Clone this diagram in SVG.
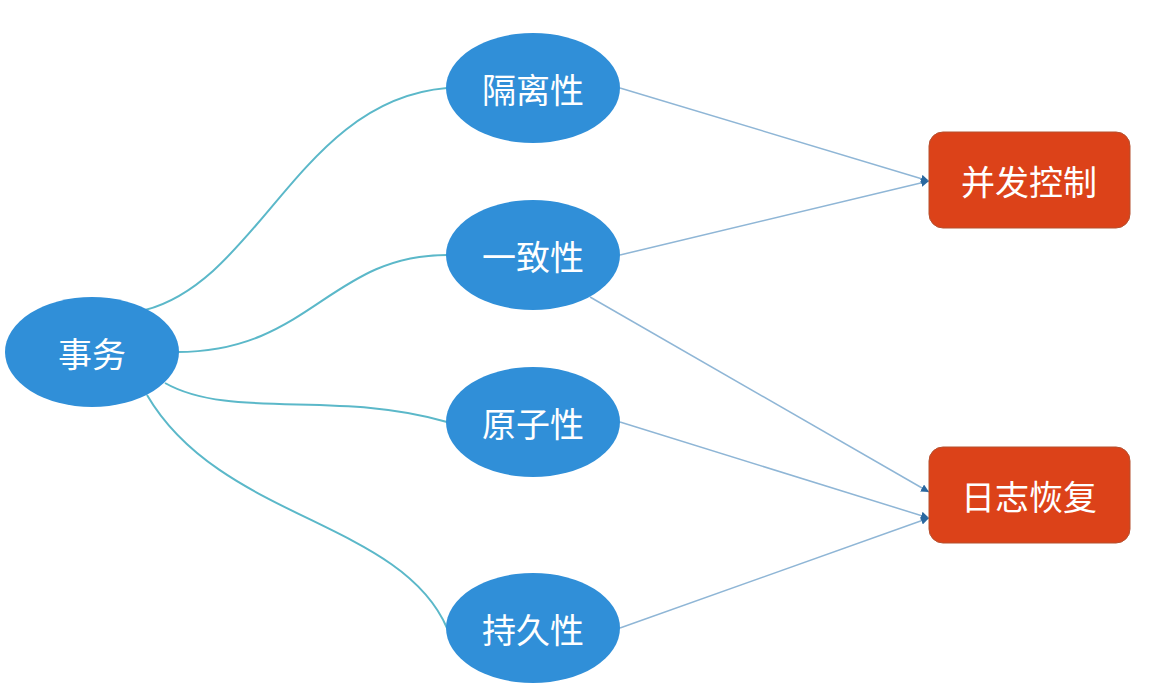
<svg xmlns="http://www.w3.org/2000/svg" width="1149" height="693" viewBox="0 0 1149 693">
<style>
.e{fill:#308fd8}
.b{fill:#dc4219;stroke:#b5502f;stroke-width:1}
.t{font-family:"Noto Sans CJK SC",sans-serif;font-size:34px;fill:#fff;text-anchor:middle;dominant-baseline:central}
.c{fill:none;stroke:#5bb8c9;stroke-width:2}
.a{fill:none;stroke:#8fb6d6;stroke-width:1.5;marker-end:url(#ar)}
</style>
<defs><marker id="ar" viewBox="0 0 10 10" refX="10" refY="5" markerWidth="8" markerHeight="8" markerUnits="userSpaceOnUse" orient="auto"><path d="M0,0L10,5L0,10z" fill="#2a68a0"/></marker></defs>
<rect width="1149" height="693" fill="#fff"/>
<g id="connectors">
<path class="c" d="M145,310 C260,280 300,100 447,88"/>
<path class="c" d="M177,352 C310,352 330,255 447,255"/>
<path class="c" d="M165,383 C230,420 340,390 447,422"/>
<path class="c" d="M147,395 C220,520 400,520 447,628"/>
<path class="a" d="M620,88 L929,181"/>
<path class="a" d="M620,255 L929,181"/>
<path class="a" d="M590,297 L929,492"/>
<path class="a" d="M620,422 L929,518"/>
<path class="a" d="M620,628 L929,518"/>
</g>
<g id="n0"><ellipse class="e" cx="92" cy="352" rx="87" ry="55"/><text class="t" x="92" y="352">事务</text></g>
<g id="n1"><ellipse class="e" cx="533" cy="88" rx="87" ry="55"/><text class="t" x="533" y="88">隔离性</text></g>
<g id="n2"><ellipse class="e" cx="533" cy="255" rx="87" ry="55"/><text class="t" x="533" y="255">一致性</text></g>
<g id="n3"><ellipse class="e" cx="533" cy="422" rx="87" ry="55"/><text class="t" x="533" y="422">原子性</text></g>
<g id="n4"><ellipse class="e" cx="533" cy="628" rx="87" ry="55"/><text class="t" x="533" y="628">持久性</text></g>
<g id="n5"><rect class="b" x="929" y="132" width="201" height="96" rx="14"/><text class="t" x="1029" y="180">并发控制</text></g>
<g id="n6"><rect class="b" x="929" y="447" width="201" height="96" rx="14"/><text class="t" x="1029" y="495">日志恢复</text></g>
</svg>
